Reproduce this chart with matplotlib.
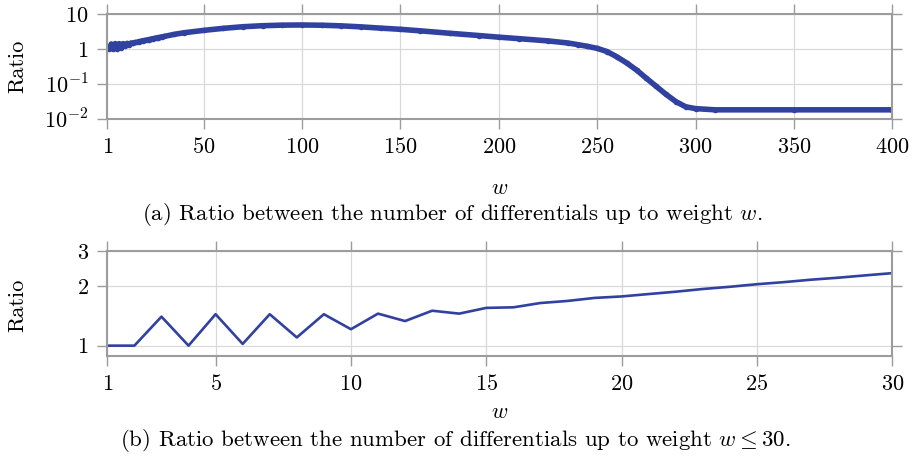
import matplotlib
matplotlib.use('Agg')
import matplotlib.pyplot as plt
from matplotlib.ticker import FixedLocator, FixedFormatter, NullLocator

plt.rcParams['font.family'] = 'serif'
plt.rcParams['font.serif'] = ['cmr10']
plt.rcParams['mathtext.fontset'] = 'cm'
plt.rcParams['axes.formatter.use_mathtext'] = True
plt.rcParams['font.size'] = 16

# ratio for small weights, w = 1..30
w_small = list(range(1, 31))
ratio_small = [1.0, 1.0, 1.40, 1.0, 1.44, 1.02, 1.44, 1.10, 1.44, 1.21,
               1.45, 1.33, 1.50, 1.45, 1.55, 1.56, 1.64, 1.68, 1.74, 1.77,
               1.82, 1.87, 1.93, 1.98, 2.04, 2.09, 2.15, 2.20, 2.26, 2.32]

# ratio for larger weights, up to 400
w_large = [35, 40, 50, 60, 70, 80, 90, 100, 110, 120, 130, 140, 150, 160,
           175, 190, 200, 210, 225, 235, 240, 245, 250, 255, 260, 265, 270,
           275, 280, 285, 290, 295, 300, 310, 350, 400]
ratio_large = [2.65, 2.95, 3.45, 3.95, 4.4, 4.7, 4.88, 4.93, 4.85, 4.65,
               4.35, 4.0, 3.7, 3.35, 2.85, 2.45, 2.2, 2.0, 1.72, 1.5, 1.35,
               1.2, 1.05, 0.85, 0.6, 0.4, 0.25, 0.145, 0.085, 0.05, 0.031,
               0.022, 0.0195, 0.018, 0.018, 0.018]

w_all = w_small + w_large
ratio_all = ratio_small + ratio_large

top_xticks = [1, 50, 100, 150, 200, 250, 300, 350, 400]
top_yticks = [0.01, 0.1, 1, 10]
top_ylabels = ['$10^{-2}$', '$10^{-1}$', '$1$', '$10$']
bot_xticks = [1, 5, 10, 15, 20, 25, 30]
bot_yticks = [1, 2, 3]

line_color = '#3041a0'
spine_color = '#9c9c9c'
grid_color = '#d9d9d9'

fig = plt.figure(figsize=(9.15, 4.58), dpi=100)
ax1 = fig.add_axes([0.1173, 0.7408, 0.8579, 0.228])
ax2 = fig.add_axes([0.1173, 0.2234, 0.8579, 0.2286])


def style(ax):
    for s in ax.spines.values():
        s.set_color(spine_color)
        s.set_linewidth(1.5)
    ax.tick_params(which='major', direction='out', length=7.5, width=1.0,
                   color=spine_color, top=True, right=True,
                   labeltop=False, labelright=False, pad=6)
    ax.grid(True, color=grid_color, linewidth=0.9)
    ax.set_axisbelow(True)


# (a) full range
ax1.plot(w_all, ratio_all, color=line_color, lw=4, marker='o', ms=4,
         mew=0, solid_capstyle='butt')
ax1.set_yscale('log')
ax1.set_xlim(1, 400)
ax1.set_ylim(0.01, 10)
ax1.yaxis.set_major_locator(FixedLocator(top_yticks))
ax1.yaxis.set_major_formatter(FixedFormatter(top_ylabels))
ax1.yaxis.set_minor_locator(NullLocator())
ax1.set_xticks(top_xticks)
ax1.set_xlabel('$w$')
ax1.set_ylabel('Ratio')
style(ax1)
ax1.xaxis.set_label_coords(0.5, -0.575)
ax1.yaxis.set_label_coords(-0.102, 0.5)

# (b) small weights
ax2.plot(w_small, ratio_small, color=line_color, lw=1.9)
ax2.set_yscale('log')
ax2.set_xlim(1, 30)
ax2.set_ylim(0.89, 3)
ax2.yaxis.set_major_locator(FixedLocator(bot_yticks))
ax2.yaxis.set_major_formatter(FixedFormatter(['1', '2', '3']))
ax2.yaxis.set_minor_locator(NullLocator())
ax2.set_xticks(bot_xticks)
ax2.set_xlabel('$w$')
ax2.set_ylabel('Ratio')
style(ax2)
ax2.xaxis.set_label_coords(0.5, -0.45)
ax2.yaxis.set_label_coords(-0.102, 0.48)

fig.text(0.494, 0.532, '(a) Ratio between the number of differentials up to weight $w$.',
         ha='center', va='center', fontsize=16.5)
fig.text(0.497, 0.038, r'(b) Ratio between the number of differentials up to weight $w \leq 30$.',
         ha='center', va='center', fontsize=16.5)

fig.savefig('out.png', dpi=100)
